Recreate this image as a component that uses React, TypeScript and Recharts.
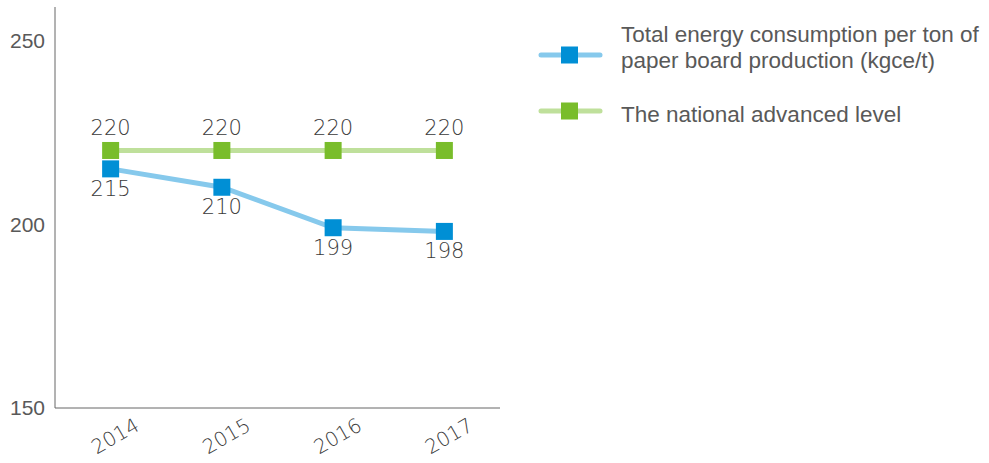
import React from 'react';
import { LineChart, Line, XAxis, YAxis, LabelList } from 'recharts';

const years = ['2014', '2015', '2016', '2017'];
const consumption = [215, 210, 199, 198];
const nationalLevel = [220, 220, 220, 220];
const yTicks = [150, 200, 250];

const consumptionLegend = ['Total energy consumption per ton of', 'paper board production (kgce/t)'];
const nationalLegend = ['The national advanced level'];

const data = years.map((year, i) => ({
  year,
  consumption: consumption[i],
  national: nationalLevel[i],
}));

const BLUE_LINE = '#86c9ec';
const BLUE_MARK = '#008fd5';
const GREEN_LINE = '#bfe09b';
const GREEN_MARK = '#79bd2b';
const TEXT = '#595959';
const THIN_TEXT = '#3a3a3a';
const THIN_FONT = '"DejaVu Sans", sans-serif';
const ARIAL = '"Liberation Sans", Arial, sans-serif';

const SquareDot = (color: string) => (props: any) => {
  const { cx, cy, key } = props;
  if (cx == null || cy == null) return null;
  return <rect key={key} x={cx - 8.5} y={cy - 8.5} width={17} height={17} fill={color} />;
};

const YearTick = (props: any) => {
  const { x, y, payload } = props;
  const tx = x + 8;
  const ty = y + 26;
  return (
    <text
      x={tx}
      y={ty}
      textAnchor="middle"
      fill={THIN_TEXT}
      fontSize={20}
      fontWeight={200}
      fontFamily={THIN_FONT}
      transform={`rotate(-30, ${tx}, ${ty})`}
    >
      {payload.value}
    </text>
  );
};

const ValueLabel = (dy: number) => (props: any) => {
  const { x, y, value } = props;
  return (
    <text x={x} y={y + dy} textAnchor="middle" fill={THIN_TEXT} fontSize={21} fontWeight={200} fontFamily={THIN_FONT}>
      {value}
    </text>
  );
};

const ChartLegend = () => {
  return (
    <svg width={460} height={140} style={{ position: 'absolute', left: 529, top: 0 }}>
      <line x1={12} y1={55} x2={71} y2={55} stroke={BLUE_LINE} strokeWidth={5} strokeLinecap="round" />
      <rect x={32} y={46.5} width={17} height={17} fill={BLUE_MARK} />
      <line x1={12} y1={111} x2={71} y2={111} stroke={GREEN_LINE} strokeWidth={5} strokeLinecap="round" />
      <rect x={32} y={102.5} width={17} height={17} fill={GREEN_MARK} />
      <text fontFamily={ARIAL} fontSize={22.5} fill={TEXT}>
        {consumptionLegend.map((l, i) => (
          <tspan key={l} x={92} y={42 + i * 26}>
            {l}
          </tspan>
        ))}
        {nationalLegend.map((l) => (
          <tspan key={l} x={92} y={122}>
            {l}
          </tspan>
        ))}
      </text>
    </svg>
  );
};

export default function App() {
  return (
    <div style={{ position: 'absolute', left: 0, top: 0, width: 989, height: 463, background: '#fff' }}>
      <LineChart width={989} height={463} data={data} margin={{ top: 7, right: 489, bottom: 0, left: 0 }}>
        <XAxis
          dataKey="year"
          scale="band"
          height={55}
          stroke="#666"
          tickLine={false}
          tick={<YearTick />}
          interval={0}
        />
        <YAxis
          domain={[150, 259]}
          ticks={yTicks}
          width={55}
          stroke="#666"
          tickLine={false}
          tick={{ fill: TEXT, fontSize: 21, fontFamily: ARIAL }}
          tickMargin={4}
        />
        <Line
          dataKey="national"
          stroke={GREEN_LINE}
          strokeWidth={5}
          dot={SquareDot(GREEN_MARK)}
          activeDot={false}
          isAnimationActive={false}
        >
          <LabelList dataKey="national" content={ValueLabel(-15)} />
        </Line>
        <Line
          dataKey="consumption"
          stroke={BLUE_LINE}
          strokeWidth={5}
          dot={SquareDot(BLUE_MARK)}
          activeDot={false}
          isAnimationActive={false}
        >
          <LabelList dataKey="consumption" content={ValueLabel(27)} />
        </Line>
      </LineChart>
      <ChartLegend />
    </div>
  );
}
